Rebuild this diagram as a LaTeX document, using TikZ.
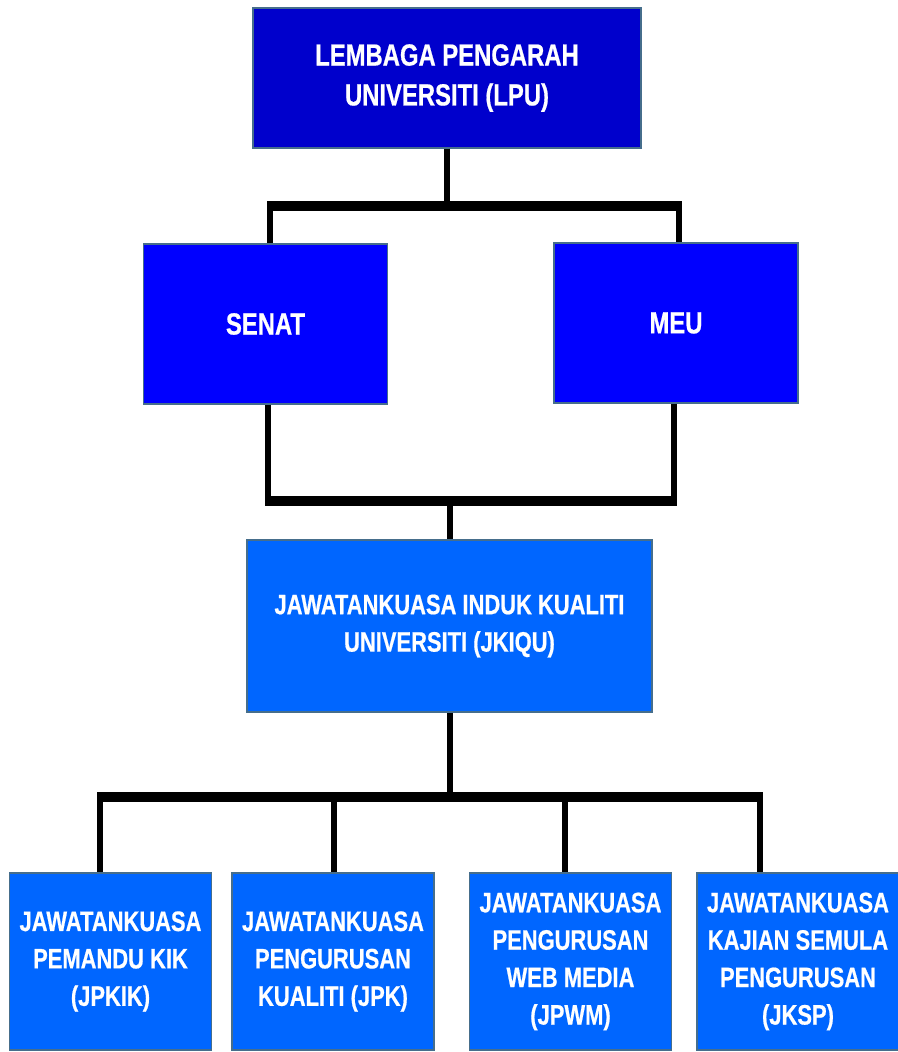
\documentclass[tikz,border=0pt]{standalone}
\usepackage{fontspec}
\newfontfamily\orgfont{Liberation Sans}[FakeStretch=0.78,FakeBold=0.6]
\usepackage{tikz}
\usetikzlibrary{positioning}
\usetikzlibrary{calc}

\definecolor{lpublue}{RGB}{0,0,204}
\definecolor{senatblue}{RGB}{0,0,255}
\definecolor{jkblue}{RGB}{0,102,255}
\definecolor{boxedge}{RGB}{70,110,140}

\tikzset{
  orgbox/.style={rectangle, draw=boxedge, line width=0.85pt, text=white, align=center, inner sep=0pt},
  bigtext/.style={font=\orgfont\bfseries\fontsize{17.4}{22.7}\selectfont},
  smalltext/.style={font=\orgfont\bfseries\fontsize{16}{21.3}\selectfont},
  lpubox/.style={orgbox, bigtext, fill=lpublue, minimum width=7.76cm, minimum height=2.8cm},
  senatbox/.style={orgbox, bigtext, fill=senatblue, minimum width=4.88cm, minimum height=3.2cm},
  jkiqubox/.style={orgbox, smalltext, fill=jkblue, minimum width=8.1cm, minimum height=3.44cm},
  unitbox/.style={orgbox, smalltext, fill=jkblue, minimum width=4.05cm, minimum height=3.54cm},
  stem/.style={line width=0.12cm, black},
  bar/.style={line width=0.2cm, black}
}

\begin{document}
\begin{tikzpicture}[x=0.02cm,y=-0.02cm]
\useasboundingbox (0,0) rectangle (898,1052);

%kotak
\node[lpubox] (lpu) at (447,78) {LEMBAGA PENGARAH\\UNIVERSITI (LPU)};
\node[senatbox] (senat) at (265.5,324) {SENAT};
\node[senatbox] (meu) at (676,323) {MEU};
\node[jkiqubox] (jkiqu) at (449.5,626) {JAWATANKUASA INDUK KUALITI\\UNIVERSITI (JKIQU)};

\node[unitbox] (jpkik) at (110.5,961.5) {JAWATANKUASA\\PEMANDU KIK\\(JPKIK)};
\node[unitbox] (jpk) at (333,961.5) {JAWATANKUASA\\PENGURUSAN\\KUALITI (JPK)};
\node[unitbox] (jpwm) at (570.5,961.5) {JAWATANKUASA\\PENGURUSAN\\WEB MEDIA\\(JPWM)};
\node[unitbox] (jksp) at (798,961.5) {JAWATANKUASA\\KAJIAN SEMULA\\PENGURUSAN\\(JKSP)};

%titik cabang
\coordinate (topl) at (270,206);
\coordinate (topr) at (679,206);
\coordinate (midl) at (268,501);
\coordinate (midr) at (674,501);
\coordinate (lowa) at (100,797);
\coordinate (lowb) at (334,797);
\coordinate (lowc) at (565,797);
\coordinate (lowd) at (760,797);

%garis LPU
\draw[bar] ($(topl)+(-3,0)$) -- ($(topr)+(3,0)$);
\draw[stem] (lpu.south) -- (lpu.south |- topl);
\draw[stem] (topl) -- (topl |- senat.north);
\draw[stem] (topr) -- (topr |- meu.north);

%garis SENAT dan MEU
\draw[bar] ($(midl)+(-3,0)$) -- ($(midr)+(3,0)$);
\draw[stem] (midl |- senat.south) -- (midl);
\draw[stem] (midr |- meu.south) -- (midr);
\draw[stem] (jkiqu.north |- midl) -- (jkiqu.north);

%garis jawatankuasa
\draw[bar] ($(lowa)+(-3,0)$) -- ($(lowd)+(3,0)$);
\draw[stem] (jkiqu.south) -- (jkiqu.south |- lowa);
\foreach \d/\n in {lowa/jpkik,lowb/jpk,lowc/jpwm,lowd/jksp}
  \draw[stem] (\d) -- (\d |- \n.north);

\end{tikzpicture}
\end{document}
